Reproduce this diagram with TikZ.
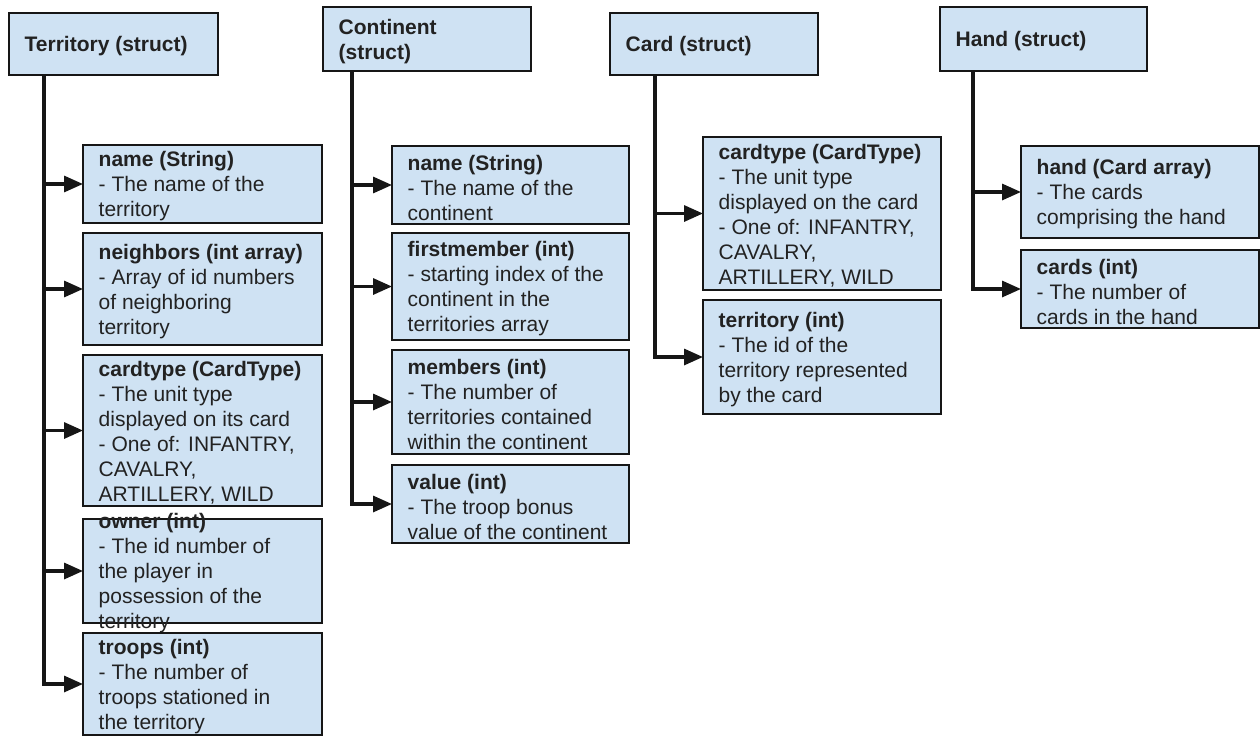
\documentclass[tikz,border=0pt]{standalone}
\usepackage{fontspec}
\setmainfont{Liberation Sans}
\usetikzlibrary{arrows.meta}
\definecolor{boxfill}{RGB}{207,226,243}
\definecolor{ink}{RGB}{22,22,22}
\definecolor{txtcol}{RGB}{34,34,34}
\newcommand\fieldbox[6]{%
  \node[boxst, anchor=north west, minimum width={#4pt-#2pt}, minimum height={#5pt-#3pt}] (#1) at (#2,#3) {};
  \node[txtst, anchor=west] (#1-t) at ([xshift=15.5pt,yshift=-2.5pt]#1.west) {#6};
}
\begin{document}
\begin{tikzpicture}[x=1pt,y=-1pt,
  boxst/.style={draw=ink, line width=2.8pt, fill=boxfill, inner sep=0pt, outer sep=0pt},
  txtst/.style={text=txtcol, align=left, inner sep=0pt, font=\fontsize{21}{25}\selectfont},
  conn/.style={draw=ink, line width=3.2pt, -{Triangle[length=19pt,width=16pt]}}]
\useasboundingbox (0,0) rectangle (1260,736);

% ---------------- Territory ----------------
\fieldbox{ter}{9}{13}{218}{75}{\textbf{Territory (struct)}}
\fieldbox{tname}{83}{145}{322}{223}{\textbf{name (String)}\\- The name of the\\territory}
\fieldbox{tnei}{83}{233}{322}{345}{\textbf{neighbors (int array)}\\- Array of id numbers\\of neighboring\\territory}
\fieldbox{tcard}{83}{355}{322}{506}{\textbf{cardtype (CardType)}\\- The unit type\\displayed on its card\\- One of: INFANTRY,\\CAVALRY,\\ARTILLERY, WILD}
\fieldbox{towner}{83}{519}{322}{623}{\textbf{owner (int)}\\- The id number of\\the player in\\possession of the\\territory}
\fieldbox{ttroops}{83}{633}{322}{735}{\textbf{troops (int)}\\- The number of\\troops stationed in\\the territory}
\coordinate (tline) at ([xshift=35pt]ter.south west);
\foreach \c in {tname,tnei,tcard,towner,ttroops} \draw[conn] (tline) |- (\c.west);

% ---------------- Continent ----------------
\fieldbox{con}{323}{7}{531}{71}{\textbf{Continent}\\\textbf{(struct)}}
\fieldbox{cname}{392}{146}{629}{224}{\textbf{name (String)}\\- The name of the\\continent}
\fieldbox{cfirst}{392}{233}{629}{340}{\textbf{firstmember (int)}\\- starting index of the\\continent in the\\territories array}
\fieldbox{cmem}{392}{350}{629}{454}{\textbf{members (int)}\\- The number of\\territories contained\\within the continent}
\fieldbox{cval}{392}{465}{629}{543}{\textbf{value (int)}\\- The troop bonus\\value of the continent}
\coordinate (cline) at ([xshift=29pt]con.south west);
\foreach \c in {cname,cfirst,cmem,cval} \draw[conn] (cline) |- (\c.west);

% ---------------- Card ----------------
\fieldbox{card}{610}{13}{818}{75}{\textbf{Card (struct)}}
\fieldbox{kcard}{703}{137}{941}{290}{\textbf{cardtype (CardType)}\\- The unit type\\displayed on the card\\- One of: INFANTRY,\\CAVALRY,\\ARTILLERY, WILD}
\fieldbox{kterr}{703}{300}{941}{414}{\textbf{territory (int)}\\- The id of the\\territory represented\\by the card}
\coordinate (kline) at ([xshift=45pt]card.south west);
\foreach \c in {kcard,kterr} \draw[conn] (kline) |- (\c.west);

% ---------------- Hand ----------------
\fieldbox{hand}{940}{7}{1147}{71}{\textbf{Hand (struct)}}
\fieldbox{hhand}{1021}{146}{1259}{238}{\textbf{hand (Card array)}\\- The cards\\comprising the hand}
\fieldbox{hcards}{1021}{250}{1259}{328}{\textbf{cards (int)}\\- The number of\\cards in the hand}
\coordinate (hline) at ([xshift=33pt]hand.south west);
\foreach \c in {hhand,hcards} \draw[conn] (hline) |- (\c.west);
\end{tikzpicture}
\end{document}
